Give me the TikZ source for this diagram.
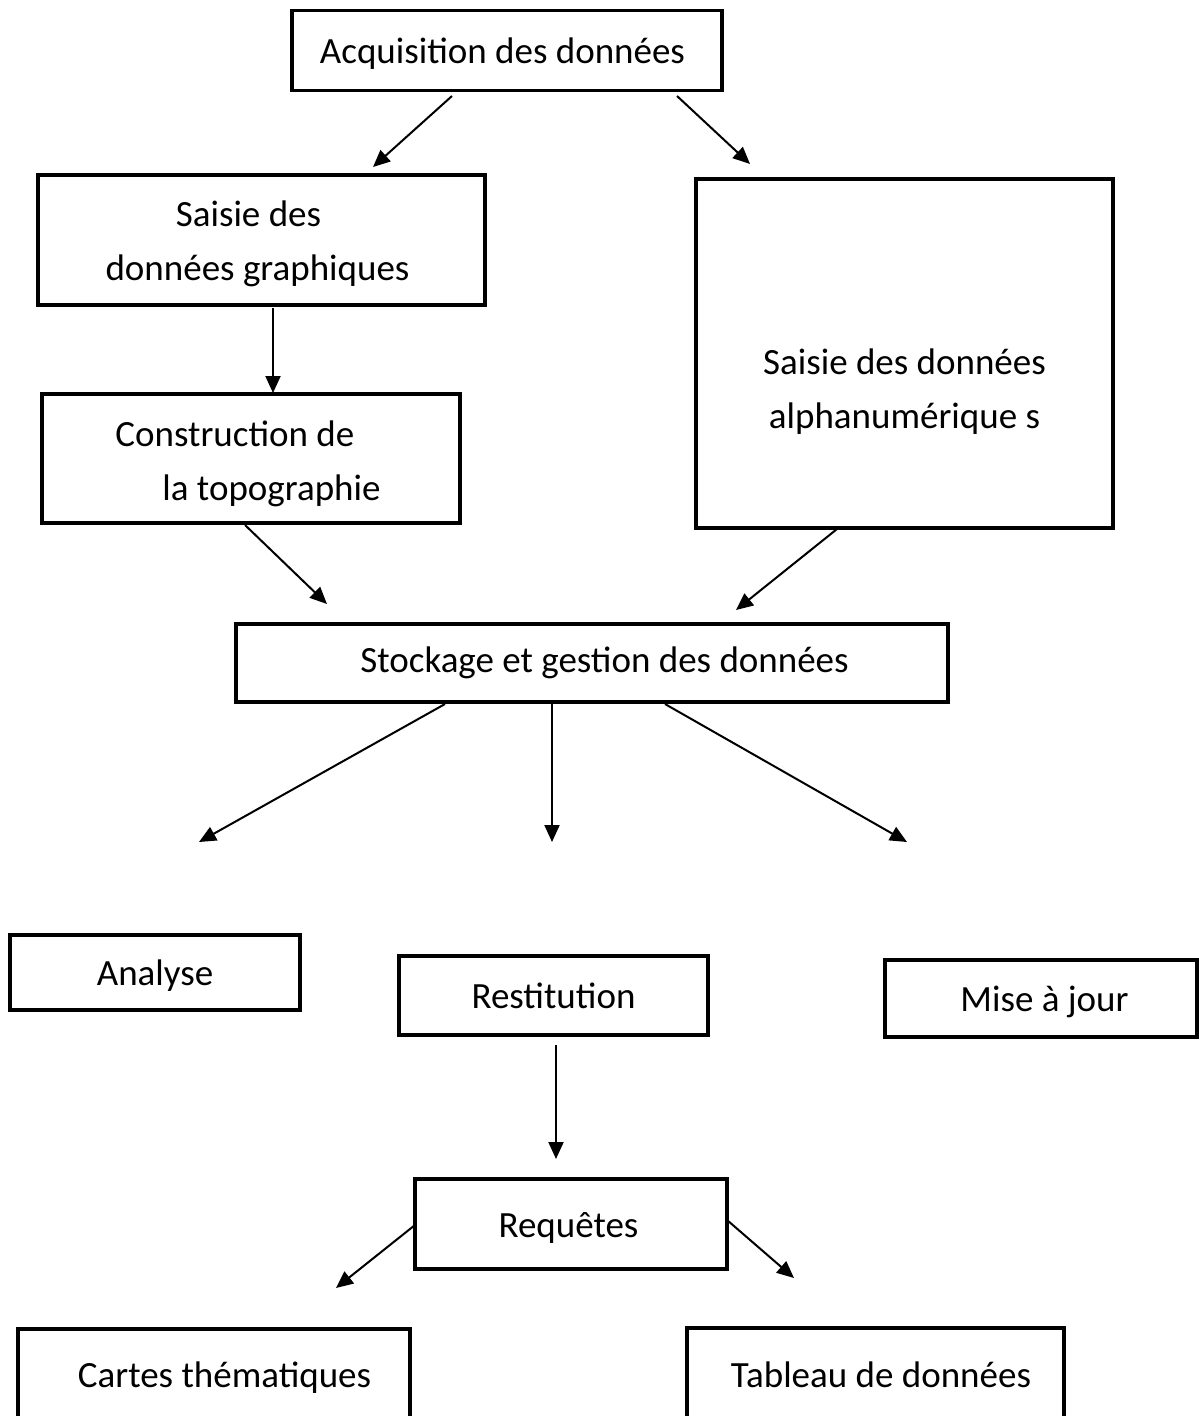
\documentclass[tikz,border=0pt]{standalone}
\usepackage{fontspec}
\setmainfont{Carlito}
\usetikzlibrary{arrows.meta}
\begin{document}
\begin{tikzpicture}[x=1pt,y=-1pt,
  box/.style={draw,line width=3.5pt,rectangle,inner sep=0pt,align=center,font=\fontsize{37}{54}\selectfont},
  one/.style={text height=26pt,text depth=0pt},
  arr/.style={line width=2pt,-{Triangle[length=17pt,width=15pt]}}]
\useasboundingbox (0,0) rectangle (1199,1416);
\clip (0,0) rectangle (1199,1416);
% boxes
\node[box,one,minimum width=430pt,minimum height=80pt] (acq) at (507,50.5) {Acquisition des données\hspace*{9pt}};
\node[box,minimum width=447pt,minimum height=130pt] (graph) at (261.5,240) {\rule{0pt}{33pt}Saisie des\hspace*{26pt}\\données graphiques\hspace*{8pt}};
\node[box,minimum width=418pt,minimum height=129pt,align=left] (topo) at (251,458.5) {\rule{0pt}{36pt}Construction de\\\hspace*{47pt}la topographie\hspace*{6pt}};
\node[box,minimum width=417pt,minimum height=349pt] (alpha) at (904.5,353.5) {\rule{0pt}{102pt}Saisie des données\\alphanumérique s};
\node[box,text height=18pt,text depth=0pt,minimum width=712pt,minimum height=78pt] (stock) at (592,663) {\hspace*{25pt}Stockage et gestion des données};
\node[box,one,minimum width=290pt,minimum height=75pt] (analyse) at (155,972.5) {Analyse};
\node[box,one,minimum width=309pt,minimum height=79pt] (restit) at (553.5,995.5) {Restitution};
\node[box,one,minimum width=312pt,minimum height=77pt] (mise) at (1041,998.5) {\hspace*{7pt}Mise à jour};
\node[box,one,minimum width=312pt,minimum height=90pt] (req) at (571,1224) {Requêtes\hspace*{5pt}};
\node[box,text height=20pt,text depth=0pt,minimum width=392pt,minimum height=96pt] (cartes) at (214,1377) {\hspace*{21pt}Cartes thématiques};
\node[box,text height=20pt,text depth=0pt,minimum width=377pt,minimum height=98pt] (tab) at (875.5,1377) {\hspace*{11pt}Tableau de données};
% arrow end points
\coordinate (s1) at (452,96);  \coordinate (e1) at (373,167);
\coordinate (s2) at (677,96);  \coordinate (e2) at (750,164);
\coordinate (s3) at (273,308); \coordinate (e3) at (273,393);
\coordinate (s4) at (245,525); \coordinate (e4) at (327,604);
\coordinate (s5) at (837,529); \coordinate (e5) at (736,610);
\coordinate (s6) at (445,704); \coordinate (e6) at (199,842);
\coordinate (s7) at (552,704); \coordinate (e7) at (552,842);
\coordinate (s8) at (665,704); \coordinate (e8) at (907,842);
\coordinate (s9) at (556,1045); \coordinate (e9) at (556,1159);
\coordinate (s10) at (415,1225); \coordinate (e10) at (336,1288);
\coordinate (s11) at (727,1220); \coordinate (e11) at (794,1278);
\foreach \i in {1,...,11} { \draw[arr] (s\i) -- (e\i); }
\end{tikzpicture}
\end{document}
